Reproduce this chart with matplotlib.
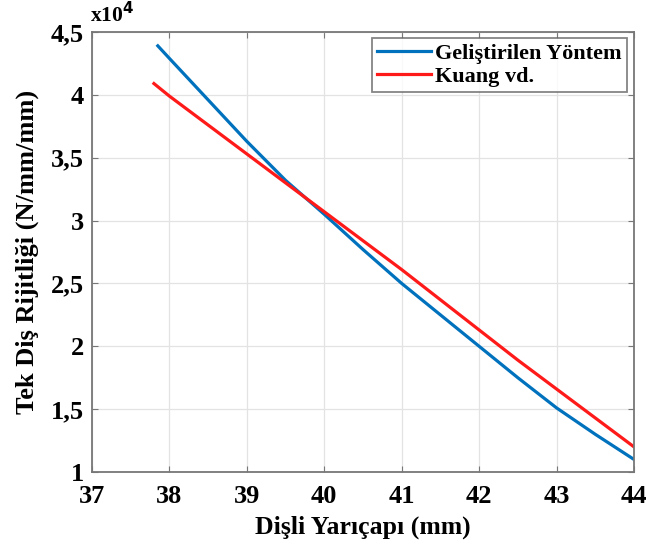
import matplotlib
matplotlib.use("Agg")
import matplotlib.pyplot as plt
from matplotlib.ticker import FuncFormatter

# Data (radius in mm, stiffness in 1e4 N/mm/mm)
x_blue = [37.85, 38.0, 38.5, 39.0, 39.5, 40.0, 40.5, 41.0, 41.5, 42.0, 42.5, 43.0, 43.5, 44.0]
y_blue = [4.39, 4.29, 3.96, 3.63, 3.32, 3.05, 2.77, 2.50, 2.25, 2.00, 1.75, 1.51, 1.30, 1.10]
x_red = [37.8, 38.0, 38.5, 39.0, 39.5, 40.0, 40.5, 41.0, 41.5, 42.0, 42.5, 43.0, 43.5, 44.0]
y_red = [4.09, 3.99, 3.76, 3.53, 3.30, 3.07, 2.84, 2.61, 2.37, 2.13, 1.89, 1.66, 1.43, 1.20]
labels = ["Geliştirilen Yöntem", "Kuang vd."]
xticks = [37, 38, 39, 40, 41, 42, 43, 44]
yticks = [1, 1.5, 2, 2.5, 3, 3.5, 4, 4.5]

plt.rcParams['font.family'] = ['Liberation Serif', 'DejaVu Serif']
plt.rcParams['font.weight'] = 'bold'

fig = plt.figure(figsize=(6.46, 5.5), dpi=100)
ax = fig.add_axes([0.1424, 0.1418, 0.839, 0.80])

ax.plot(x_blue, y_blue, color='#0072BD', lw=2.3, label=labels[0])
ax.plot(x_red, y_red, color='#FF1A1A', lw=2.3, label=labels[1])

ax.set_xlim(37, 44)
ax.set_ylim(1, 4.5)
ax.set_xticks(xticks)
ax.set_yticks(yticks)
fmt = FuncFormatter(lambda v, p: (f"{v:g}").replace('.', ','))
ax.yaxis.set_major_formatter(fmt)
ax.xaxis.set_major_formatter(fmt)
ax.grid(True, color='#e3e3e3', lw=0.9)
ax.tick_params(direction='in', top=True, right=True, length=4, color='#777777',
               labelsize=19)
ax.tick_params(axis='x', pad=9)
ax.tick_params(axis='y', pad=6)
for lab in ax.get_xticklabels() + ax.get_yticklabels():
    lab.set_fontweight('bold')
for s in ax.spines.values():
    s.set_color('#777777')
    s.set_linewidth(1.3)

ax.set_xlabel("Dişli Yarıçapı (mm)", fontsize=18.5, fontweight='bold')
ax.set_ylabel("Tek Diş Rijitliği (N/mm/mm)", fontsize=19, fontweight='bold')
ax.xaxis.set_label_coords(0.5, -0.098)
ax.yaxis.set_label_coords(-0.098, 0.5)
ax.text(-0.003, 1.01, r"x10$^{4}$", transform=ax.transAxes, fontsize=15.5,
        fontweight='bold', ha='left', va='bottom')

leg = ax.legend(loc='upper right', fontsize=16, frameon=True, fancybox=False,
                edgecolor='#666666', handlelength=2.4, borderaxespad=0.25,
                borderpad=0.25, labelspacing=0.12, handletextpad=0.2,
                bbox_to_anchor=(0.998, 1.0))
leg.get_frame().set_linewidth(1.3)
for t in leg.get_texts():
    t.set_fontweight('bold')

fig.savefig("out.png", dpi=100)
